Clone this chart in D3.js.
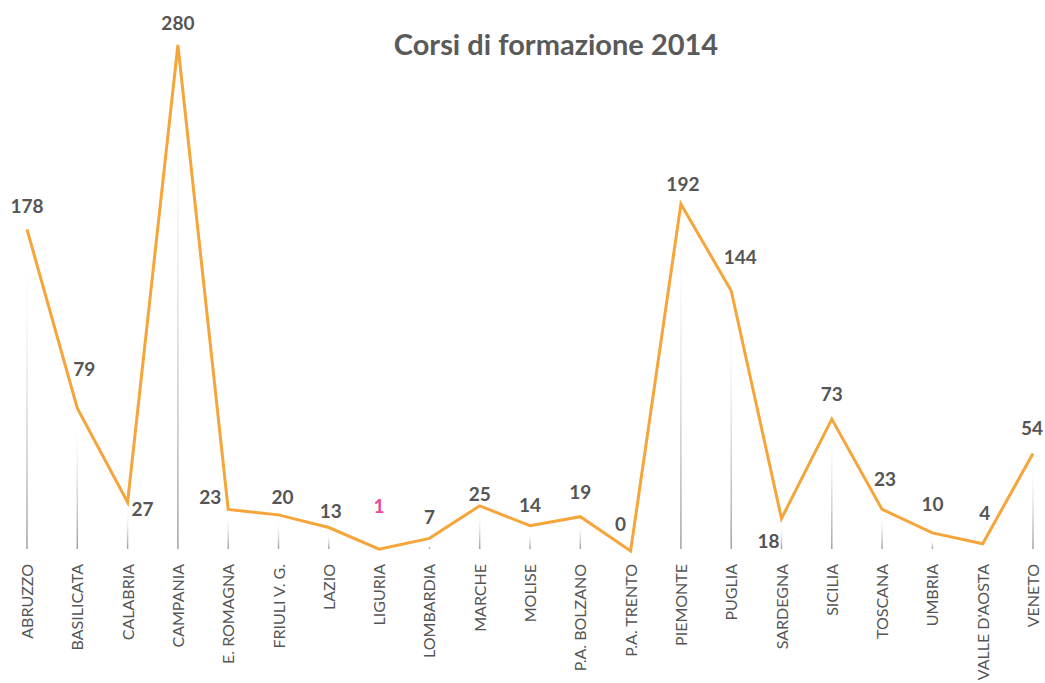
<!DOCTYPE html>
<html>
<head>
<meta charset="utf-8">
<script src="https://cdn.jsdelivr.net/npm/d3@7"></script>
<style>
  body { margin: 0; background: #fff; }
  text { font-family: "Lato", "Open Sans", sans-serif; }
</style>
</head>
<body>
<svg id="svg"></svg>
<script>

const width = 1045;
const height = 683;

// dati
const regioni = ["ABRUZZO", "BASILICATA", "CALABRIA", "CAMPANIA", "E. ROMAGNA", "FRIULI V. G.", "LAZIO",
  "LIGURIA", "LOMBARDIA", "MARCHE", "MOLISE", "P.A. BOLZANO", "P.A. TRENTO", "PIEMONTE", "PUGLIA",
  "SARDEGNA", "SICILIA", "TOSCANA", "UMBRIA", "VALLE D'AOSTA", "VENETO"];
const corsi = [178, 79, 27, 280, 23, 20, 13, 1, 7, 25, 14, 19, 0, 192, 144, 18, 73, 23, 10, 4, 54];
const titolo = "Corsi di formazione 2014";

const data = regioni.map((r, i) => ({ regione: r, valore: corsi[i] }));

// where the value label sits relative to its point
const labelPos = {
  "ABRUZZO": [0, -16], "BASILICATA": [7, -32], "CALABRIA": [15, 14], "CAMPANIA": [0, -15],
  "E. ROMAGNA": [-18, -5], "FRIULI V. G.": [4, -11], "LAZIO": [2, -10], "LIGURIA": [0, -36],
  "LOMBARDIA": [0, -14], "MARCHE": [0, -5], "MOLISE": [0, -14], "P.A. BOLZANO": [0, -18],
  "P.A. TRENTO": [-10, -20], "PIEMONTE": [2, -13], "PUGLIA": [9, -27], "SARDEGNA": [-13, 30],
  "SICILIA": [0, -18], "TOSCANA": [3, -23], "UMBRIA": [0, -22], "VALLE D'AOSTA": [2, -24],
  "VENETO": [-1, -18]
};

const svg = d3.select("#svg")
  .attr("width", width)
  .attr("height", height);

const x = d3.scalePoint()
  .domain(regioni)
  .range([27, 1033]);

const y = d3.scaleLinear()
  .domain([0, 280])
  .range([551, 45]);

const baseY = 549;

const defs = svg.append("defs");
const grad = defs.append("linearGradient")
  .attr("id", "drop")
  .attr("x1", 0).attr("y1", 0)
  .attr("x2", 0).attr("y2", 1);
grad.append("stop").attr("offset", "0%").attr("stop-color", "#fff").attr("stop-opacity", 0);
grad.append("stop").attr("offset", "55%").attr("stop-color", "#d4d4d4").attr("stop-opacity", 0.8);
grad.append("stop").attr("offset", "100%").attr("stop-color", "#a0a0a0").attr("stop-opacity", 1);

// title
svg.append("text")
  .attr("x", 556)
  .attr("y", 55)
  .attr("text-anchor", "middle")
  .style("font-size", "29px")
  .style("font-weight", "bold")
  .style("fill", "#5a5a5a")
  .text(titolo);

// drop lines
svg.append("g")
  .selectAll("rect")
  .data(data.filter(d => y(d.valore) < baseY - 4))
  .enter().append("rect")
  .attr("x", d => x(d.regione) - 0.75)
  .attr("y", d => y(d.valore) + 6)
  .attr("width", 1.5)
  .attr("height", d => baseY - y(d.valore) - 6)
  .style("fill", "url(#drop)");

// x labels
svg.append("g")
  .selectAll("text")
  .data(regioni)
  .enter().append("text")
  .attr("transform", d => `translate(${x(d) + 6},564) rotate(-90)`)
  .attr("text-anchor", "end")
  .style("font-size", "16px")
  .style("fill", "#555")
  .text(d => d);

// line
const line = d3.line()
  .x(d => x(d.regione))
  .y(d => y(d.valore));

svg.append("path")
  .datum(data)
  .attr("d", line)
  .style("fill", "none")
  .style("stroke", "#f5a53a")
  .style("stroke-width", 3)
  .style("stroke-linejoin", "miter");

// value labels
svg.append("g")
  .selectAll("text")
  .data(data)
  .enter().append("text")
  .attr("x", d => x(d.regione) + labelPos[d.regione][0])
  .attr("y", d => y(d.valore) + labelPos[d.regione][1])
  .attr("text-anchor", "middle")
  .style("font-size", "19px")
  .style("font-weight", "bold")
  .style("fill", d => d.regione === "LIGURIA" ? "#e8479a" : "#555")
  .text(d => d.valore);

</script>
</body>
</html>
